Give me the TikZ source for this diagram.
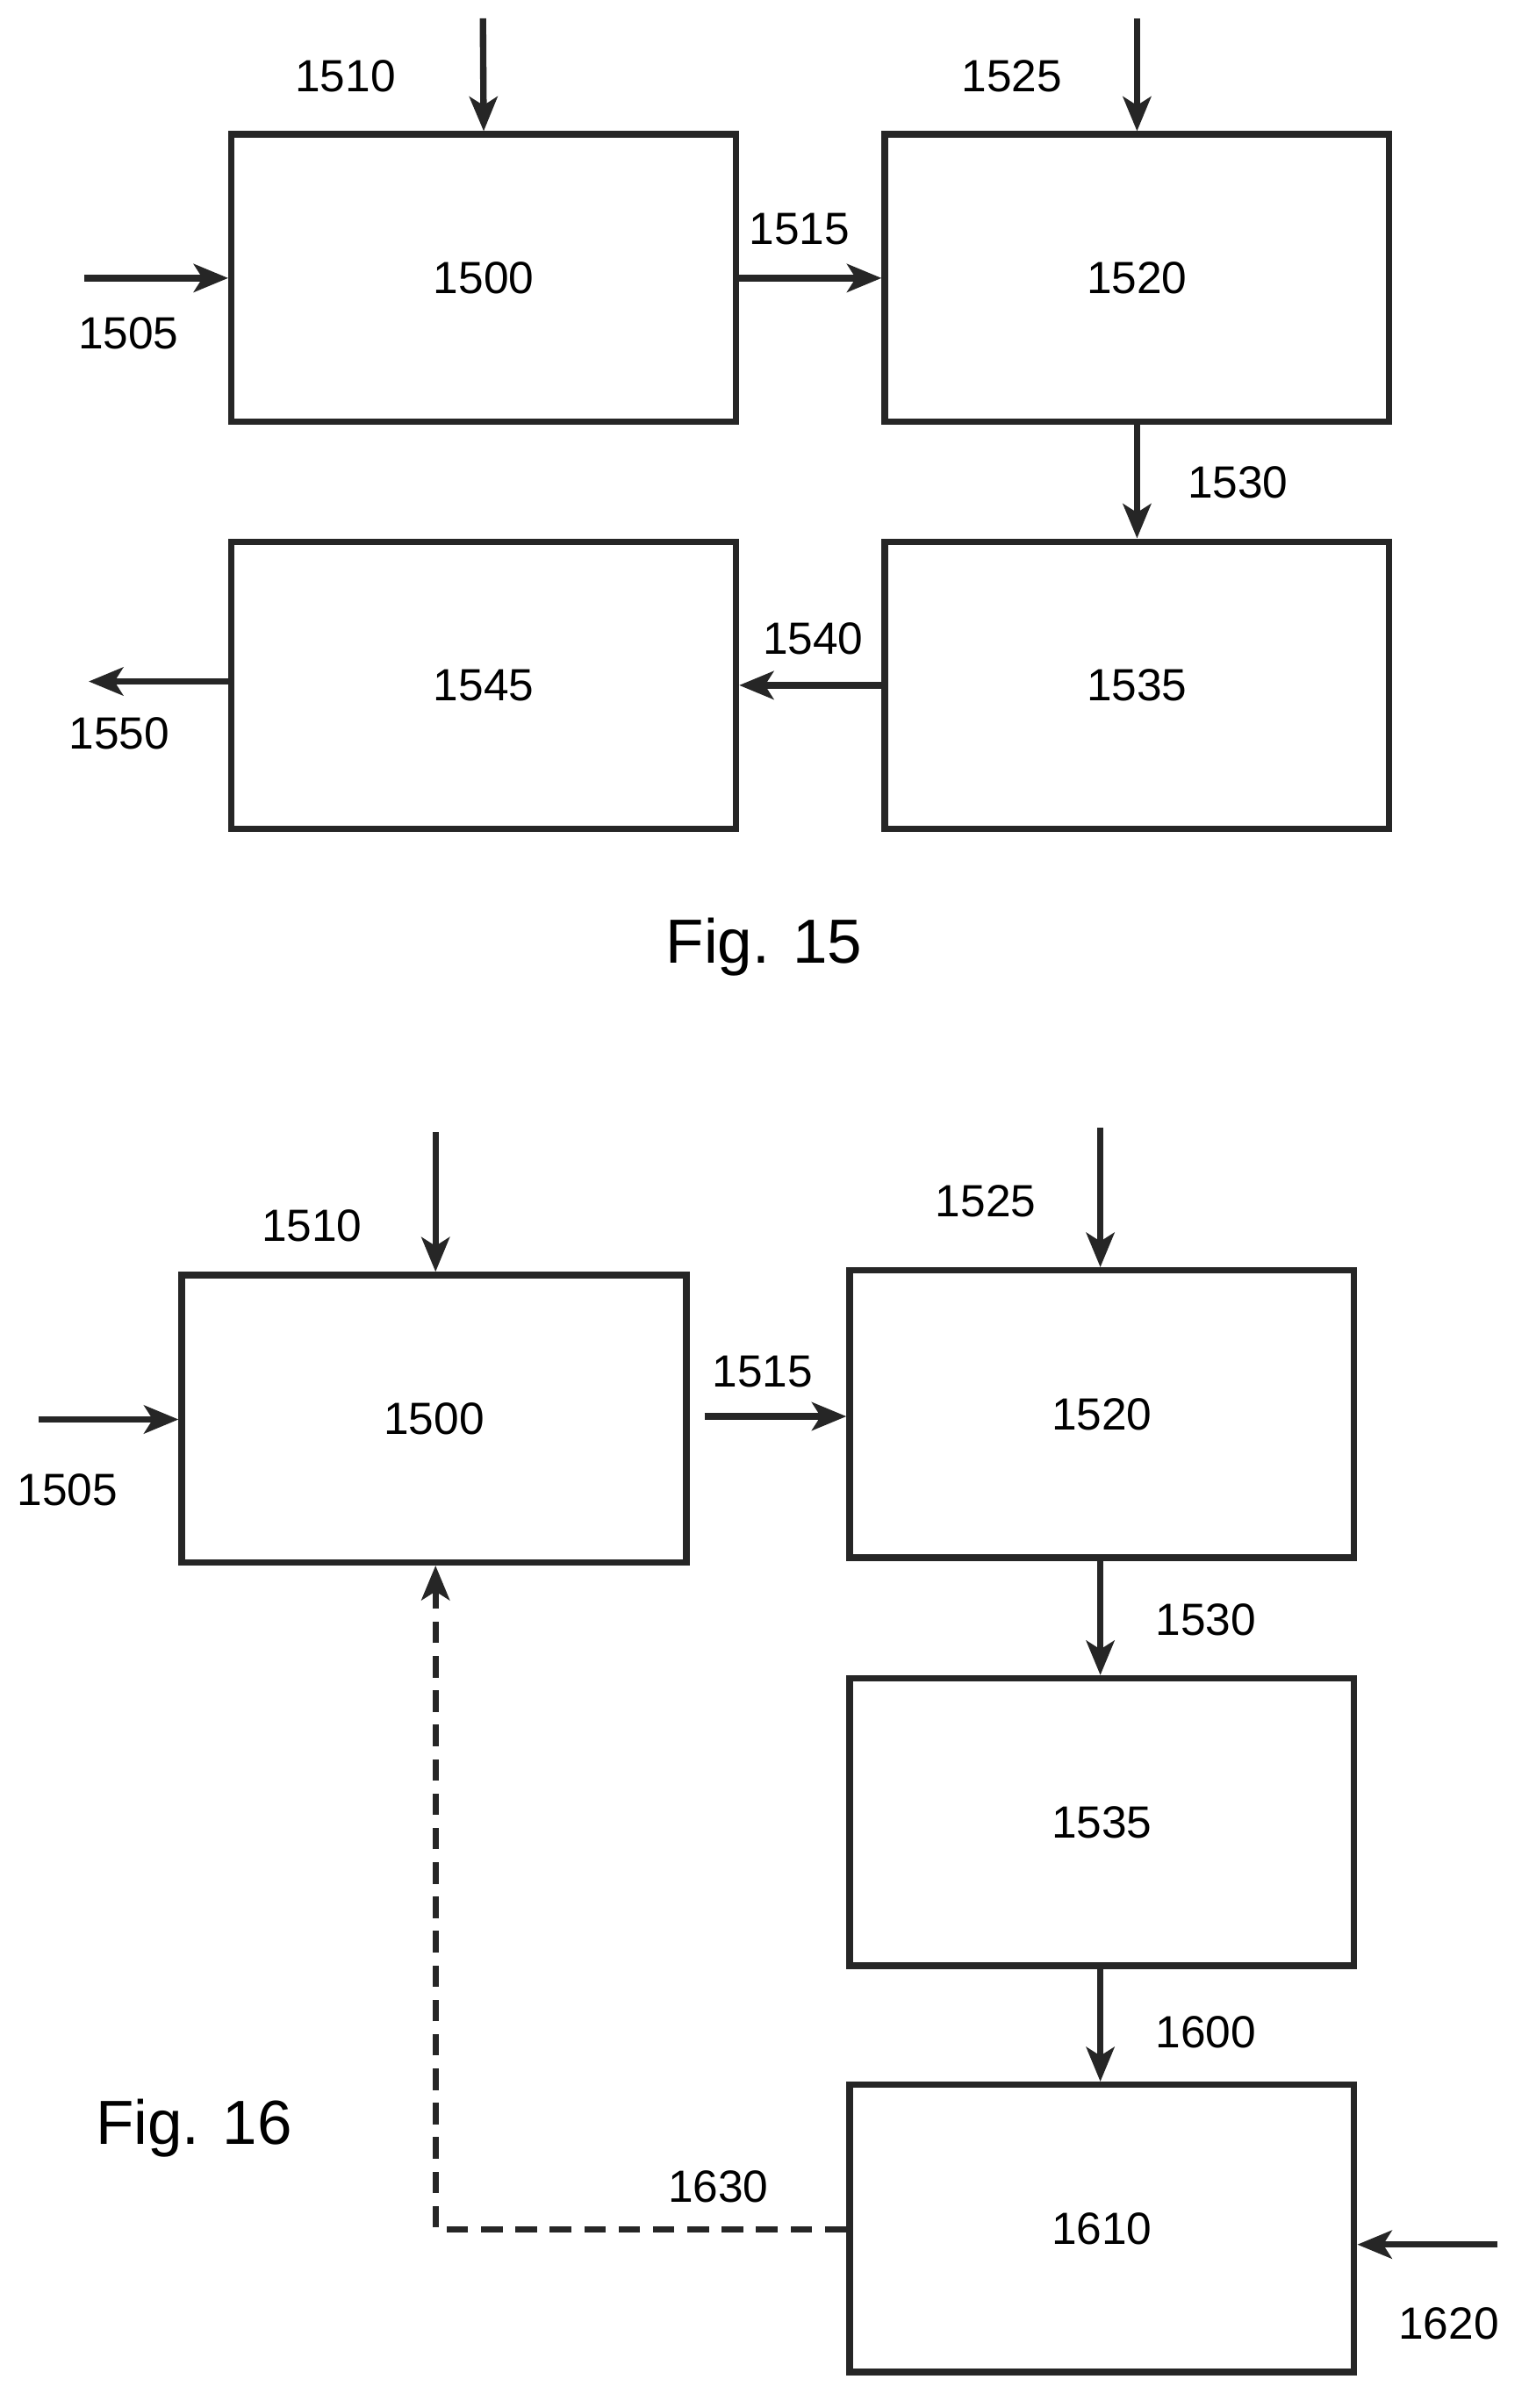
\documentclass[tikz,border=0pt]{standalone}
\usepackage{fontspec}
\setmainfont{Liberation Sans}
\usetikzlibrary{arrows.meta,positioning,calc}
\tikzset{
    line/.style  = {-{Stealth[length=16pt,width=13pt,inset=4pt]}, line width=3pt, draw=black!85},
    dline/.style = {line, dash pattern=on 10pt off 6pt},
    block/.style = {draw=black!85, line width=3pt, minimum width=8.25cm, minimum height=4.7cm,
            inner sep=0pt, font=\fontsize{21}{25}\selectfont},
    lab/.style   = {font=\fontsize{21}{25}\selectfont},
    figlab/.style= {font=\fontsize{29}{35}\selectfont},
}
\begin{document}
\begin{tikzpicture}[x=0.025cm,y=-0.025cm]
    \useasboundingbox (0,0) rectangle (1000,1576);
    % Fig. 15
    \node[block] (a0) at (316.5,182) {1500};
    \node[block] (a1) at (744,182) {1520};
    \node[block] (a2) at (744,448.5) {1535};
    \node[block] (a3) at (316.5,448.5) {1545};
    \coordinate (a0in) at (316,12);
    \coordinate (a1in) at (744,12);
    \coordinate (a0left) at (55,182);
    \coordinate (a3out) at (58,446);
    \draw[line] (a0in) -- (a0.north);
    \draw[line] (a1in) -- (a1.north);
    \draw[line] (a0left) -- (a0.west);
    \draw[line] (a0.east) -- (a1.west);
    \draw[line] (a1.south) -- (a2.north);
    \draw[line] (a2.west) -- (a3.east);
    \draw[line] (a3.west |- a3out) -- (a3out);
    \node[lab] at (226,50) {1510};
    \node[lab] at (662,50) {1525};
    \node[lab] at (84,218) {1505};
    \node[lab] at (523,150) {1515};
    \node[lab] at (810,316) {1530};
    \node[lab] at (532,418) {1540};
    \node[lab] at (78,480) {1550};
    \node[figlab] at (500,620) {Fig. 15};
    % Fig. 16
    \node[block] (b0) at (284,928.5) {1500};
    \node[block] (b1) at (721,925.5) {1520};
    \node[block] (b2) at (721,1192.5) {1535};
    \node[block] (b3) at (721,1458.5) {1610};
    \coordinate (b0in) at (285,741);
    \coordinate (b1in) at (720,738);
    \coordinate (b0left) at (25,929);
    \coordinate (b1left) at (461,927);
    \coordinate (b3in) at (980,1469);
    \coordinate (bend) at (285,1459);
    \draw[line] (b0in) -- (b0in |- b0.north);
    \draw[line] (b1in) -- (b1in |- b1.north);
    \draw[line] (b0left) -- (b0.west |- b0left);
    \draw[line] (b1left) -- (b1.west |- b1left);
    \draw[line] (b1in |- b1.south) -- (b1in |- b2.north);
    \draw[line] (b1in |- b2.south) -- (b1in |- b3.north);
    \draw[line] (b3in) -- (b3.east |- b3in);
    \draw[dline] (b3.west |- bend) -- (bend) -- (bend |- b0.south);
    \node[lab] at (204,802) {1510};
    \node[lab] at (645,786) {1525};
    \node[lab] at (44,975) {1505};
    \node[lab] at (499,898) {1515};
    \node[lab] at (789,1060) {1530};
    \node[lab] at (789,1330) {1600};
    \node[lab] at (948,1521) {1620};
    \node[lab] at (470,1431) {1630};
    \node[figlab] at (127,1393) {Fig. 16};
\end{tikzpicture}
\end{document}
